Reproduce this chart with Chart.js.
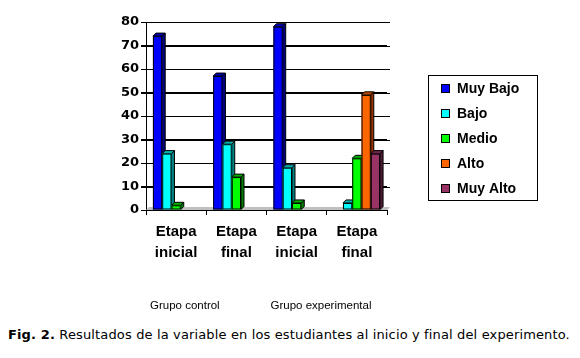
<!DOCTYPE html>
<html lang="es">
<head>
<meta charset="UTF-8">
<title>Fig. 2</title>
<style>
    body { margin: 0; background: #fff; }
    .wrap { position: relative; width: 580px; height: 358px; }
    #chart { position: absolute; left: 0; top: 0; }
    .caption {
        position: absolute; left: 8px; top: 327px;
        font-family: 'DejaVu Sans', Verdana, sans-serif; font-size: 13px; color: #000;
        letter-spacing: 0.14px; white-space: nowrap;
    }
    .caption b { font-weight: bold; }
</style>
</head>
<body>
<div class="wrap">
    <canvas id="chart" width="580" height="322"></canvas>
    <div class="caption"><b>Fig. 2.</b> Resultados de la variable en los estudiantes al inicio y final del experimento.</div>
</div>
<script src="https://cdn.jsdelivr.net/npm/chart.js"></script>
<script>
// datos
const categories = [['Etapa', 'inicial'], ['Etapa', 'final'], ['Etapa', 'inicial'], ['Etapa', 'final']];
const groups = ['Grupo control', 'Grupo experimental'];
const groupStart = [0, 2];
const seriesNames = ['Muy Bajo', 'Bajo', 'Medio', 'Alto', 'Muy Alto'];
const muyBajo = [74, 57, 78, 0];
const bajo = [24, 28, 18, 3];
const medio = [2, 14, 3, 22];
const alto = [0, 0, 0, 49];
const muyAlto = [0, 0, 0, 24];

const front = ['#0000ff', '#00ffff', '#00ff00', '#ff6600', '#993366'];
const side = ['#000080', '#008080', '#008000', '#993300', '#4d1a33'];
const top3d = ['#0000b0', '#00b0b0', '#00b000', '#c04a00', '#70254a'];
const DEPTH = 3;

// barras en 3D dibujadas a partir de los elementos del propio Chart.js
const bars3d = {
    id: 'bars3d',
    beforeDatasetsDraw(chart) {
        const ctx = chart.ctx;
        const a = chart.chartArea;
        const ys = chart.scales.y;
        ctx.save();
        // líneas de división (pared del fondo)
        ctx.strokeStyle = '#000';
        ctx.lineWidth = 1;
        ys.ticks.forEach(t => {
            const y = Math.round(ys.getPixelForValue(t.value)) + 0.5;
            if (t.value === 0) return;
            ctx.beginPath();
            ctx.moveTo(a.left - 5, y);
            ctx.lineTo(a.right + DEPTH, y);
            ctx.stroke();
        });
        // suelo gris
        ctx.fillStyle = '#c0c0c0';
        ctx.beginPath();
        ctx.moveTo(a.left, a.bottom);
        ctx.lineTo(a.right, a.bottom);
        ctx.lineTo(a.right + DEPTH, a.bottom - DEPTH);
        ctx.lineTo(a.left + DEPTH, a.bottom - DEPTH);
        ctx.closePath();
        ctx.fill();

        const n = chart.data.labels.length;
        for (let i = 0; i < n; i++) {
            chart.data.datasets.forEach((ds, d) => {
                if (!ds.data[i]) return;
                const el = chart.getDatasetMeta(d).data[i];
                const l = el.x - el.width / 2, r = el.x + el.width / 2;
                const t = el.y, b = el.base;
                ctx.strokeStyle = '#000';
                // cara lateral
                ctx.fillStyle = side[d];
                ctx.beginPath();
                ctx.moveTo(r, t); ctx.lineTo(r + DEPTH, t - DEPTH);
                ctx.lineTo(r + DEPTH, b - DEPTH); ctx.lineTo(r, b);
                ctx.closePath(); ctx.fill(); ctx.stroke();
                // cara superior
                ctx.fillStyle = top3d[d];
                ctx.beginPath();
                ctx.moveTo(l, t); ctx.lineTo(l + DEPTH, t - DEPTH);
                ctx.lineTo(r + DEPTH, t - DEPTH); ctx.lineTo(r, t);
                ctx.closePath(); ctx.fill(); ctx.stroke();
                // frente
                ctx.fillStyle = front[d];
                ctx.fillRect(l, t, r - l, b - t);
                ctx.strokeRect(l + 0.5, t + 0.5, r - l - 1, b - t - 1);
            });
        }
        ctx.restore();
        return false;
    },
    afterDraw(chart) {
        const ctx = chart.ctx;
        const a = chart.chartArea;
        const xs = chart.scales.x;
        ctx.save();
        // leyenda con recuadro
        const lx = a.right + 41, ly = 75;
        ctx.strokeStyle = '#000';
        ctx.lineWidth = 1;
        ctx.strokeRect(lx + 0.5, ly + 0.5, 109, 125);
        ctx.font = 'bold 14px "Liberation Sans", Arial, sans-serif';
        ctx.textBaseline = 'middle';
        chart.data.datasets.forEach((ds, d) => {
            const cy = ly + 13 + d * 25;
            ctx.fillStyle = front[d];
            ctx.fillRect(lx + 13, cy - 4, 8, 8);
            ctx.strokeRect(lx + 13.5, cy - 3.5, 8, 8);
            ctx.fillStyle = '#000';
            ctx.fillText(ds.label, lx + 29, cy + 1);
        });
        // etiquetas de grupo
        const catW = (xs.right - xs.left) / chart.data.labels.length;
        ctx.font = '11.5px "Liberation Sans", Arial, sans-serif';
        ctx.textAlign = 'left';
        groups.forEach((g, k) => {
            const x0 = xs.getPixelForValue(groupStart[k]) - catW / 2;
            ctx.fillText(g, x0 + 4, 306);
        });
        ctx.restore();
    }
};

new Chart(document.getElementById('chart'), {
    type: 'bar',
    data: {
        labels: categories,
        datasets: [
            { label: seriesNames[0], data: muyBajo, backgroundColor: front[0] },
            { label: seriesNames[1], data: bajo, backgroundColor: front[1] },
            { label: seriesNames[2], data: medio, backgroundColor: front[2] },
            { label: seriesNames[3], data: alto, backgroundColor: front[3] },
            { label: seriesNames[4], data: muyAlto, backgroundColor: front[4] }
        ]
    },
    options: {
        responsive: false,
        animation: false,
        layout: { padding: { left: 0, right: 193, top: 22, bottom: 0 } },
        datasets: { bar: { categoryPercentage: 0.77, barPercentage: 1 } },
        scales: {
            x: {
                grid: { display: true, offset: true, drawOnChartArea: false, color: '#000', tickLength: 5 },
                border: { color: '#000' },
                ticks: {
                    color: '#000', padding: 6,
                    font: { family: '"Liberation Sans", Arial, sans-serif', size: 15, weight: 'bold', lineHeight: 1.4 },
                    maxRotation: 0
                },
                afterFit(s) { s.height = 322 - 210; }
            },
            y: {
                min: 0, max: 80,
                ticks: {
                    stepSize: 10, color: '#000', padding: 2,
                    font: { family: '"DejaVu Sans", Verdana, sans-serif', size: 13, weight: 'bold' }
                },
                grid: { color: '#000', tickLength: 5 },
                border: { color: '#000' },
                afterFit(s) { s.width = 146; }
            }
        },
        plugins: {
            legend: { display: false },
            tooltip: { enabled: false }
        }
    },
    plugins: [bars3d]
});
</script>
</body>
</html>
